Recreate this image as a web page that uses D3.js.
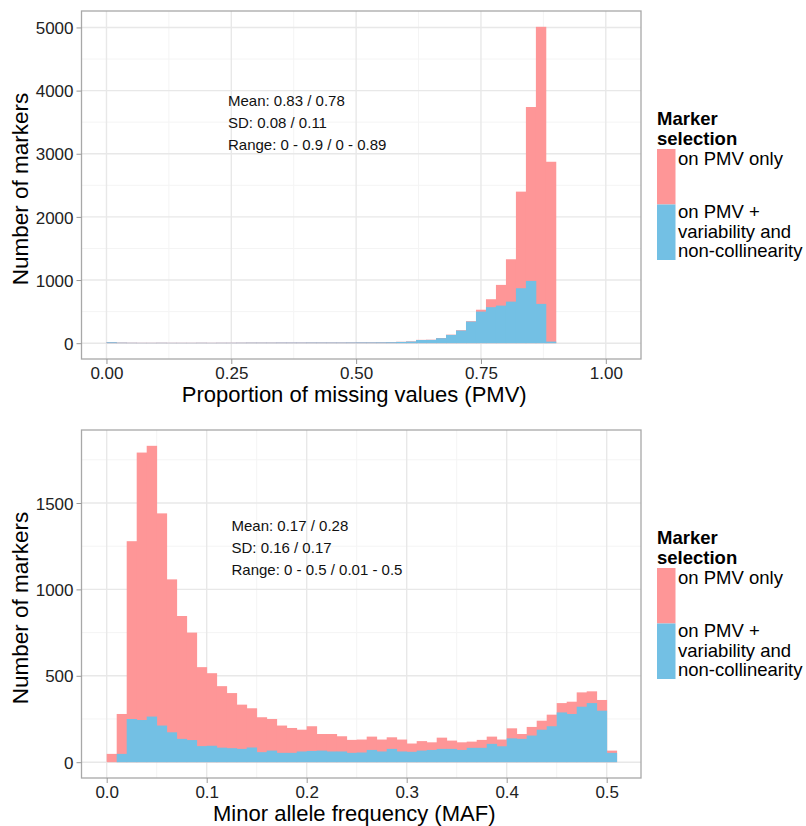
<!DOCTYPE html>
<html>
<head>
<meta charset="utf-8">
<script src="https://cdn.jsdelivr.net/npm/d3@7"></script>
<style>
body { margin: 0; background: #fff; }
svg { font-family: "Liberation Sans", Arial, sans-serif; }
.tick text { fill: #222; font-size: 17px; }
.tick line { stroke: #999; }
</style>
</head>
<body>
<div id="chart"></div>
<script>
// histogram counts
// PMV: bins of 0.02 starting at 0.00
var pmvAll = [16, 9, 7, 6, 6, 7, 6, 6, 6, 7, 6, 7, 7, 8, 9, 9, 9, 10, 10, 10,
  11, 11, 11, 11, 12, 13, 13, 14, 17, 22, 28, 53, 55, 82, 135, 205, 348, 530, 696, 923,
  1329, 2400, 3740, 5010, 2873];
var pmvSelected = [15, 8, 6, 5, 5, 6, 5, 5, 5, 6, 5, 6, 6, 7, 8, 8, 8, 9, 9, 9,
  10, 10, 10, 10, 11, 12, 12, 13, 15, 20, 26, 50, 52, 79, 131, 200, 342, 500, 570, 595,
  658, 870, 986, 622, 25];

// MAF: bins of 0.01 starting at 0.00
var mafAll = [48, 279, 1279, 1792, 1831, 1440, 1058, 846, 750, 550,
  515, 440, 400, 333, 312, 260, 250, 212, 198, 188,
  208, 163, 163, 150, 129, 131, 148, 131, 144, 131,
  108, 122, 115, 142, 125, 115, 119, 129, 148, 131,
  196, 163, 204, 240, 275, 342, 350, 404, 410, 360, 67];
var mafSelected = [0, 48, 250, 244, 264, 212, 173, 135, 128, 93,
  95, 84, 81, 77, 85, 58, 67, 54, 54, 62,
  65, 67, 62, 62, 54, 56, 71, 62, 77, 62,
  60, 67, 71, 77, 77, 71, 83, 83, 106, 92,
  138, 135, 154, 188, 208, 288, 279, 321, 342, 298, 54];

var pmvTicks = [0, 0.25, 0.5, 0.75, 1];
var pmvTickLabels = ["0.00", "0.25", "0.50", "0.75", "1.00"];
var pmvCountTicks = [0, 1000, 2000, 3000, 4000, 5000];
var mafTicks = [0, 0.1, 0.2, 0.3, 0.4, 0.5];
var mafTickLabels = ["0.0", "0.1", "0.2", "0.3", "0.4", "0.5"];
var mafCountTicks = [0, 500, 1000, 1500];

var legendTitle = ["Marker", "selection"];
var legendLabels = [["on PMV only"], ["on PMV +", "variability and", "non-collinearity"]];
var pmvStats = ["Mean: 0.83 / 0.78", "SD: 0.08 / 0.11", "Range: 0 - 0.9 / 0 - 0.89"];
var mafStats = ["Mean: 0.17 / 0.28", "SD: 0.16 / 0.17", "Range: 0 - 0.5 / 0.01 - 0.5"];

var RED = "#fe9697", BLUE = "#73c0e4";

var svg = d3.select("#chart").append("svg")
  .attr("width", 806).attr("height", 826);

function HistPanel(param) {
  var left = 81.5, right = 641, top = param.top, bottom = param.bottom;
  var g = svg.append("g");

  var x = d3.scaleLinear().domain(param.xDomain).range([left, right]);
  var ymax = d3.max(param.all);
  var y = d3.scaleLinear().domain([-0.05 * ymax, 1.05 * ymax]).range([bottom, top]);

  // grid (minor then major)
  g.selectAll(".xminor").data(param.xMinor).enter().append("line")
    .attr("x1", function (d) { return x(d); }).attr("x2", function (d) { return x(d); })
    .attr("y1", top).attr("y2", bottom)
    .attr("stroke", "#f4f4f4").attr("stroke-width", 1);
  g.selectAll(".yminor").data(param.yMinor).enter().append("line")
    .attr("y1", function (d) { return y(d); }).attr("y2", function (d) { return y(d); })
    .attr("x1", left).attr("x2", right)
    .attr("stroke", "#f4f4f4").attr("stroke-width", 1);
  g.selectAll(".xmajor").data(param.xTicks).enter().append("line")
    .attr("x1", function (d) { return x(d); }).attr("x2", function (d) { return x(d); })
    .attr("y1", top).attr("y2", bottom)
    .attr("stroke", "#e8e8e8").attr("stroke-width", 1.4);
  g.selectAll(".ymajor").data(param.yTicks).enter().append("line")
    .attr("y1", function (d) { return y(d); }).attr("y2", function (d) { return y(d); })
    .attr("x1", left).attr("x2", right)
    .attr("stroke", "#e8e8e8").attr("stroke-width", 1.4);

  function binX(i) { return x(param.binStart + i * param.binWidth); }

  // all markers (red) with the selected subset (blue) drawn over it
  [[param.all, RED], [param.selected, BLUE]].forEach(function (s) {
    g.append("g").selectAll("rect")
      .data(s[0])
      .enter().append("rect")
      .attr("x", function (d, i) { return binX(i); })
      .attr("width", function (d, i) { return binX(i + 1) - binX(i) + 0.4; })
      .attr("y", function (d) { return y(d); })
      .attr("height", function (d) { return y(0) - y(d); })
      .attr("fill", s[1]);
  });

  // panel border
  g.append("rect")
    .attr("x", left).attr("y", top)
    .attr("width", right - left).attr("height", bottom - top)
    .attr("fill", "none").attr("stroke", "#a8a8a8").attr("stroke-width", 1.3);

  // axes
  var xa = g.append("g")
    .attr("transform", "translate(0," + bottom + ")")
    .call(d3.axisBottom(x).tickValues(param.xTicks)
      .tickFormat(function (d, i) { return param.xLabels[i]; })
      .tickSize(5).tickPadding(2.5));
  xa.select(".domain").remove();

  var ya = g.append("g")
    .attr("transform", "translate(" + left + ",0)")
    .call(d3.axisLeft(y).tickValues(param.yTicks).tickFormat(d3.format("d"))
      .tickSize(5).tickPadding(3));
  ya.select(".domain").remove();
  ya.selectAll("text").attr("dy", "0.36em");

  // axis titles
  g.append("text")
    .attr("x", (left + right) / 2 - 7).attr("y", bottom + 43.3)
    .attr("text-anchor", "middle").attr("font-size", 22).attr("fill", "#000")
    .text(param.xTitle);
  g.append("text")
    .attr("transform", "translate(28," + ((top + bottom) / 2 + 4) + ") rotate(-90)")
    .attr("text-anchor", "middle").attr("font-size", 22.5).attr("fill", "#000")
    .text("Number of markers");

  // summary statistics
  g.selectAll(".stat").data(param.stats).enter().append("text")
    .attr("x", param.statsX)
    .attr("y", function (d, i) { return param.statsY + i * 22; })
    .attr("font-size", 15).attr("fill", "#111")
    .text(function (d) { return d; });

  // legend
  var lg = g.append("g").attr("transform", "translate(657," + (top + 114) + ")");
  lg.selectAll(".lt").data(legendTitle).enter().append("text")
    .attr("y", function (d, i) { return i * 20; })
    .attr("font-size", 18.5).attr("font-weight", "bold").attr("fill", "#000")
    .text(function (d) { return d; });
  [RED, BLUE].forEach(function (c, k) {
    lg.append("rect")
      .attr("x", 0).attr("y", 24 + k * 55.5)
      .attr("width", 18.5).attr("height", 55.5)
      .attr("fill", c);
    lg.selectAll(".ll" + k).data(legendLabels[k]).enter().append("text")
      .attr("x", 21)
      .attr("y", function (d, i) { return 40 + k * 53 + i * 19.5; })
      .attr("font-size", 18.5).attr("fill", "#000")
      .text(function (d) { return d; });
  });
}

HistPanel({
  top: 11, bottom: 359,
  xDomain: [-0.05, 1.0705],
  binStart: 0, binWidth: 0.02,
  all: pmvAll, selected: pmvSelected,
  xTicks: pmvTicks, xLabels: pmvTickLabels,
  xMinor: [0.125, 0.375, 0.625, 0.875],
  yTicks: pmvCountTicks, yMinor: [500, 1500, 2500, 3500, 4500],
  xTitle: "Proportion of missing values (PMV)",
  stats: pmvStats, statsX: 228, statsY: 106
});

HistPanel({
  top: 430, bottom: 778,
  xDomain: [-0.0252, 0.5343],
  binStart: 0, binWidth: 0.01,
  all: mafAll, selected: mafSelected,
  xTicks: mafTicks, xLabels: mafTickLabels,
  xMinor: [0.05, 0.15, 0.25, 0.35, 0.45],
  yTicks: mafCountTicks, yMinor: [250, 750, 1250, 1750],
  xTitle: "Minor allele frequency (MAF)",
  stats: mafStats, statsX: 231.5, statsY: 531
});
</script>
</body>
</html>
